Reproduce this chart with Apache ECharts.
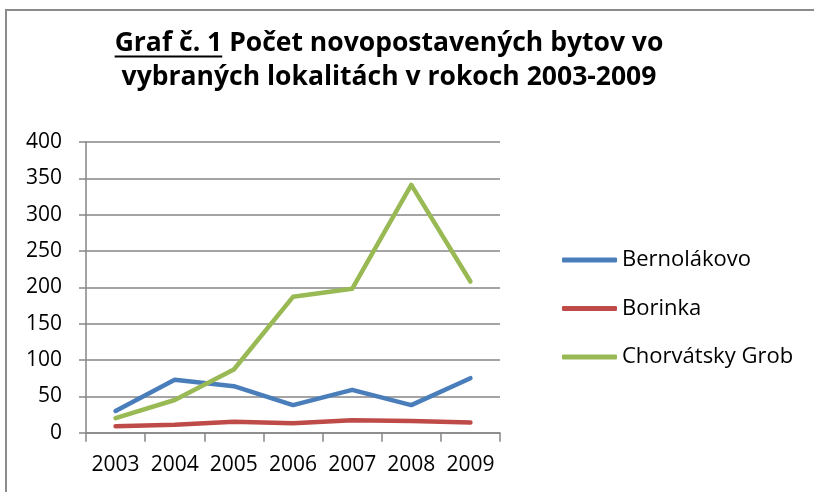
<!DOCTYPE html>
<html>
<head>
<meta charset="utf-8">
<script src="https://cdn.jsdelivr.net/npm/echarts@6/dist/echarts.min.js"></script>
<style>
html,body{margin:0;padding:0;background:#fff;}
#c{width:814px;height:492px;}
</style>
</head>
<body>
<div id="c"></div>
<script>
const years = ['2003','2004','2005','2006','2007','2008','2009'];
const seriesNames = ['Bernolákovo','Borinka','Chorvátsky Grob'];
const bernolakovo = [30, 73, 64, 38, 59, 38, 75];
const borinka = [9, 11, 15, 13, 17, 16, 14];
const chorvatskyGrob = [20, 45, 87, 187, 198, 341, 208];
const yTicks = [0, 50, 100, 150, 200, 250, 300, 350, 400];
const titleUnderlined = 'Graf č. 1';
const titleRest = ' Počet novopostavených bytov vo';
const titleLine2 = 'vybraných lokalitách v rokoch 2003-2009';

const colors = ['#4A7EBB', '#BE4B48', '#98B954'];
const FONT = 'Open Sans';
const TITLE_SIZE = 26.5;
const TITLE_CX = 389;
const TITLE_TOP = 26;
const TITLE_LH = 34;

// measure title text to place the underline under "Graf č. 1"
const mctx = document.createElement('canvas').getContext('2d');
mctx.font = 'bold ' + TITLE_SIZE + 'px "' + FONT + '"';
const wFull = mctx.measureText(titleUnderlined + titleRest).width;
const wU = mctx.measureText(titleUnderlined).width;
const ulX1 = TITLE_CX - wFull / 2;
const ulY = TITLE_TOP + TITLE_LH / 2 + TITLE_SIZE * 0.36 + 4;

const chart = echarts.init(document.getElementById('c'));

function mk(name, data, color) {
  return {
    name: name, type: 'line', data: data, symbol: 'none',
    lineStyle: {width: 4.5, color: color, cap: 'round', join: 'round'},
    itemStyle: {color: color}
  };
}

chart.setOption({
  animation: false,
  backgroundColor: '#ffffff',
  title: {
    text: '{u|' + titleUnderlined + '}' + titleRest + '\n' + titleLine2,
    left: TITLE_CX, top: TITLE_TOP, textAlign: 'center',
    padding: 0,
    textStyle: {
      fontFamily: FONT, fontWeight: 'bold', fontSize: TITLE_SIZE, color: '#000', lineHeight: TITLE_LH,
      rich: { u: {fontFamily: FONT, fontWeight: 'bold', fontSize: TITLE_SIZE, color: '#000', lineHeight: TITLE_LH} }
    }
  },
  graphic: [
    {type: 'polyline', shape: {points: [[6, 492], [6, 10], [814, 10]]},
     style: {stroke: '#8c8c8c', lineWidth: 2, fill: null}, silent: true},
    {type: 'line', shape: {x1: ulX1, y1: ulY, x2: ulX1 + wU, y2: ulY},
     style: {stroke: '#000', lineWidth: 2}, silent: true}
  ],
  legend: {
    orient: 'vertical', left: 557, top: 244,
    itemWidth: 55, itemHeight: 5, itemGap: 26.5,
    icon: 'roundRect',
    textStyle: {fontFamily: FONT, fontSize: 22, color: '#000', lineHeight: 22, padding: [0,0,0,0]},
    data: seriesNames
  },
  grid: {left: 86, right: 314, top: 142, bottom: 59.3, containLabel: false},
  xAxis: {
    type: 'category', data: years, boundaryGap: true,
    axisLine: {lineStyle: {color: '#868686', width: 1.5}},
    axisTick: {show: true, length: 9, lineStyle: {color: '#868686', width: 1.5}, alignWithLabel: false},
    axisLabel: {fontFamily: FONT, fontSize: 21, color: '#000', margin: 22, interval: 0}
  },
  yAxis: {
    type: 'value', min: yTicks[0], max: yTicks[yTicks.length - 1], interval: 50,
    axisLine: {show: true, lineStyle: {color: '#868686', width: 1.5}},
    axisTick: {show: true, length: 7, lineStyle: {color: '#868686', width: 1.5}},
    splitLine: {lineStyle: {color: '#868686', width: 1.5}},
    axisLabel: {fontFamily: FONT, fontSize: 21, color: '#000', margin: 24}
  },
  series: [
    mk(seriesNames[0], bernolakovo, colors[0]),
    mk(seriesNames[1], borinka, colors[1]),
    mk(seriesNames[2], chorvatskyGrob, colors[2])
  ]
});
</script>
</body>
</html>
